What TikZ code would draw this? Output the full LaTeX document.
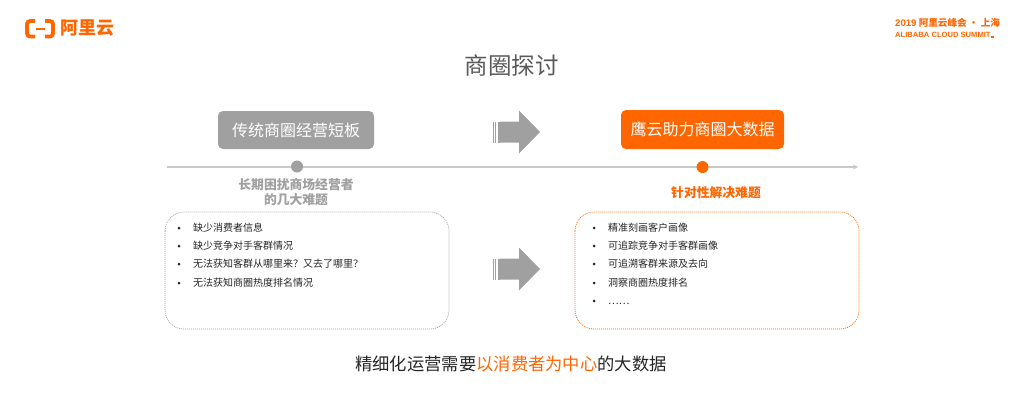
\documentclass[tikz,border=0pt]{standalone}
\usepackage{fontspec}
\setmainfont{Noto Sans CJK SC}
\newfontfamily\latinfont{Liberation Sans}
\usetikzlibrary{arrows.meta}
\definecolor{aliorange}{HTML}{FF6600}
\definecolor{aligray}{HTML}{A0A0A0}
\definecolor{axisgray}{HTML}{C8C8C8}
\definecolor{darktext}{HTML}{262626}
\newcommand{\fsz}[1]{\fontsize{#1pt}{#1pt}\selectfont}
\newcommand{\blockarrow}[2]{%
  \fill[aligray] (#1+7,#2-10.5) -- (#1+26,#2-10.5) -- (#1+26,#2-21.5) -- (#1+47,#2) -- (#1+26,#2+21.5) -- (#1+26,#2+10.5) -- (#1+7,#2+10.5) -- cycle;
  \fill[aligray] (#1,#2-10.5) rectangle (#1+1.2,#2+10.5);
  \fill[aligray] (#1+2.2,#2-10.5) rectangle (#1+3.4,#2+10.5);
  \fill[aligray] (#1+4.6,#2-10.5) rectangle (#1+7,#2+10.5);
}
\tikzset{
  x=1pt,y=-1pt,
  headbox/.style={rounded corners=5pt,text=white,inner sep=0pt,font=\fsz{16}},
  dotmark/.style={circle,inner sep=0pt,minimum size=12pt},
  subhead/.style={font=\fsz{12.8}\bfseries,inner sep=0pt},
  listbox/.style={rounded corners=19pt,line width=0.7pt,dash pattern=on 1pt off 1pt},
  listitem/.style={anchor=west,font=\fsz{10},text=darktext,inner sep=0pt},
  bulletmark/.style={circle,fill=darktext,inner sep=0pt,minimum size=3pt},
}
\begin{document}
\begin{tikzpicture}
\useasboundingbox (0,0) rectangle (1024,410);
\fill[white] (0,0) rectangle (1024,410);
% logo
\draw[aliorange,line width=3.8pt,rounded corners=3pt] (35,21) -- (27,21) -- (27,36.5) -- (35,36.5);
\draw[aliorange,line width=3.8pt,rounded corners=3pt] (45,21) -- (53,21) -- (53,36.5) -- (45,36.5);
\fill[aliorange] (35.5,28) rectangle (44.5,29.5);
\node[font=\fsz{18}\bfseries,text=aliorange,anchor=west,inner sep=0pt] (brand) at (60,28.5) {阿里云};
\node[font=\fsz{9.6}\bfseries,text=aliorange,anchor=west,inner sep=0pt] (summitcn) at (895,23) {{\latinfont\bfseries 2019} 阿里云峰会 · 上海};
\node[font=\fsz{7.6}\latinfont\bfseries,text=aliorange,anchor=west,inner sep=0pt] (summiten) at (895,35) {ALIBABA CLOUD SUMMIT\rule{3pt}{1.2pt}};
% title
\node[font=\fsz{23.5},text=black!65,inner sep=0pt] (title) at (511.5,65.5) {商圈探讨};
% header boxes
\node[headbox,fill=aligray,minimum width=156pt,minimum height=38pt] (oldhead) at (296,130) {传统商圈经营短板};
\node[headbox,fill=aliorange,minimum width=163pt,minimum height=39pt] (newhead) at (702.5,129.5) {鹰云助力商圈大数据};
% arrows
\blockarrow{493}{132}
\blockarrow{493}{269}
% axis
\coordinate (axisstart) at (167,167);
\coordinate (axisend) at (858,167);
\draw[axisgray,line width=1.8pt,-{Stealth[length=5pt,width=5pt]}] (axisstart) -- (axisend);
\node[dotmark,fill=aligray] (olddot) at (297,166.5) {};
\node[dotmark,fill=aliorange] (newdot) at (702.5,167) {};
% sub headings
\node[subhead,text=aligray] (oldsub) at (296,184.5) {长期困扰商场经营者};
\node[subhead,text=aligray] (oldsubb) at (296,200) {的几大难题};
\node[subhead,text=aliorange] (newsub) at (716,193) {针对性解决难题};
% list boxes
\draw[listbox,draw=aligray] (165,212) rectangle (449,329);
\draw[listbox,draw=aliorange] (575,212) rectangle (859,329);
% left list
\node[bulletmark] (lb1) at (179,228) {}; \node[listitem] (l1) at (193,228) {缺少消费者信息};
\node[bulletmark] (lb2) at (179,246) {}; \node[listitem] (l2) at (193,246) {缺少竞争对手客群情况};
\node[bulletmark] (lb3) at (179,264) {}; \node[listitem] (l3) at (193,264) {无法获知客群从哪里来？又去了哪里？};
\node[bulletmark] (lb4) at (179,283) {}; \node[listitem] (l4) at (193,283) {无法获知商圈热度排名情况};
% right list
\node[bulletmark] (rb1) at (594,228) {}; \node[listitem] (r1) at (608,228) {精准刻画客户画像};
\node[bulletmark] (rb2) at (594,246) {}; \node[listitem] (r2) at (608,246) {可追踪竞争对手客群画像};
\node[bulletmark] (rb3) at (594,264) {}; \node[listitem] (r3) at (608,264) {可追溯客群来源及去向};
\node[bulletmark] (rb4) at (594,283) {}; \node[listitem] (r4) at (608,283) {洞察商圈热度排名};
\node[bulletmark] (rb5) at (594,301) {}; \node[listitem] (r5) at (608,303.5) {……};
% footer
\node[font=\fsz{17.3},text=darktext,inner sep=0pt] (footer) at (511,364) {精细化运营需要\textcolor{aliorange}{以消费者为中心}的大数据};
\end{tikzpicture}
\end{document}
